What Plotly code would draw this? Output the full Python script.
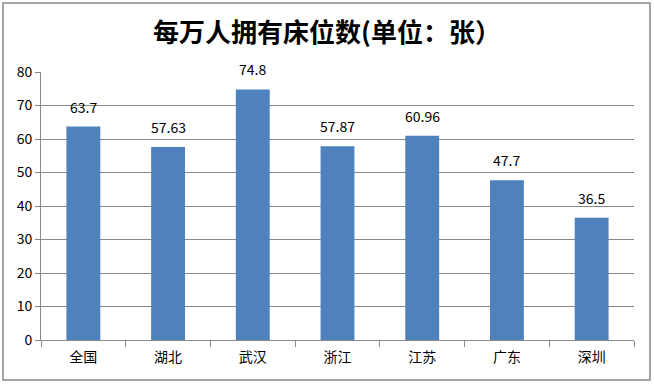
import plotly.graph_objects as go

categories = ["全国", "湖北", "武汉", "浙江", "江苏", "广东", "深圳"]
values = [63.7, 57.63, 74.8, 57.87, 60.96, 47.7, 36.5]
value_labels = ["63.7", "57.63", "74.8", "57.87", "60.96", "47.7", "36.5"]
y_ticks = [0, 10, 20, 30, 40, 50, 60, 70, 80]

W, H = 654, 384
L, R, T, B = 41, 20, 72, 44
pw, ph = W - L - R, H - T - B

fig = go.Figure(go.Bar(
    x=categories, y=values,
    marker=dict(color="#4F81BD", line=dict(width=0)),
))

for c, v, t in zip(categories, values, value_labels):
    fig.add_annotation(x=c, y=v, text=t, showarrow=False, yanchor="bottom", yshift=8,
                       font=dict(family="Noto Sans CJK SC", size=14, color="#000000"))

def px_x(px):
    return (px - L) / pw

def px_y(py):
    return (H - B - py) / ph

fig.update_layout(
    width=W, height=H,
    margin=dict(l=L, r=R, t=T, b=B, autoexpand=False),
    paper_bgcolor="white", plot_bgcolor="white",
    bargap=0.6,
    showlegend=False,
    title=dict(text="<b>每万人拥有床位数(单位：张）</b>", x=0.5, xanchor="center",
               y=1 - 33 / H, yanchor="middle",
               font=dict(family="Noto Sans CJK SC", size=26, color="#000000")),
    xaxis=dict(type="category", tickson="boundaries", ticks="outside", ticklen=6,
               tickcolor="#888888", showline=True, linecolor="#888888", linewidth=1,
               tickfont=dict(family="Noto Sans CJK SC", size=14, color="#000000"),
               ticklabelstandoff=4,
               showgrid=False, automargin=False),
    yaxis=dict(range=[0, 80], tickvals=y_ticks, ticks="outside", ticklen=5,
               tickcolor="#888888", showline=True, linecolor="#888888", linewidth=1,
               gridcolor="#888888", gridwidth=1, zeroline=False, automargin=False,
               tickfont=dict(family="Noto Sans CJK SC", size=14, color="#000000")),
    shapes=[dict(type="rect", xref="paper", yref="paper",
                 x0=px_x(3), x1=px_x(650), y0=px_y(380), y1=px_y(3),
                 line=dict(color="#888888", width=1.5), layer="below")],
)

fig.write_html("out.html", config={"displayModeBar": False},
               post_script="document.body.style.margin='0';document.body.style.overflow='hidden';")
